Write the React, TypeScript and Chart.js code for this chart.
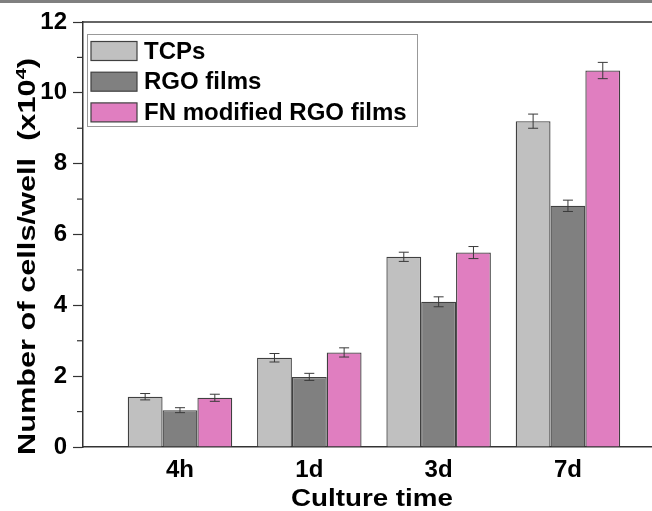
import React, { useEffect, useRef } from 'react';
import { Chart, registerables } from 'chart.js';

Chart.register(...registerables);

const categories = ['4h', '1d', '3d', '7d'];
const seriesNames = ['TCPs', 'RGO films', 'FN modified RGO films'];
const tcpValues = [1.42, 2.52, 5.37, 9.2];
const tcpErrors = [0.09, 0.12, 0.13, 0.2];
const rgoValues = [1.04, 1.98, 4.1, 6.81];
const rgoErrors = [0.07, 0.1, 0.14, 0.16];
const fnValues = [1.39, 2.67, 5.49, 10.63];
const fnErrors = [0.1, 0.13, 0.17, 0.23];
const yMajorTicks = [0, 2, 4, 6, 8, 10, 12];
const yMinorTicks = [1, 3, 5, 7, 9, 11];
const seriesColors = ['#C0C0C0', '#808080', '#E07EC0'];
const xTitle = 'Culture time';
const yTitleMain = 'Number of cells/well  (x10';
const yTitleSup = '4';
const yTitleEnd = ')';

const allValues = [tcpValues, rgoValues, fnValues];
const allErrors = [tcpErrors, rgoErrors, fnErrors];

const FONT = '"Liberation Sans", Arial, sans-serif';
const AXIS_COLOR = '#333333';

const decorPlugin = {
  id: 'decor',
  beforeDraw(chart: any) {
    const { ctx, width, height } = chart;
    ctx.save();
    ctx.fillStyle = '#ffffff';
    ctx.fillRect(0, 0, width, height);
    ctx.fillStyle = '#808080';
    ctx.fillRect(0, 0, width, 3);
    ctx.restore();
  },
  afterDatasetsDraw(chart: any) {
    const { ctx } = chart;
    const ys = chart.scales.y;
    ctx.save();
    ctx.strokeStyle = '#3a3a3a';
    ctx.lineWidth = 1;
    allValues.forEach((vals, di) => {
      const meta = chart.getDatasetMeta(di);
      meta.data.forEach((bar: any, j: number) => {
        const e = allErrors[di][j];
        const x = bar.x;
        const yt = ys.getPixelForValue(vals[j] + e);
        const yb = ys.getPixelForValue(vals[j] - e);
        ctx.beginPath();
        ctx.moveTo(x, yt);
        ctx.lineTo(x, yb);
        ctx.moveTo(x - 5, yt);
        ctx.lineTo(x + 5, yt);
        ctx.moveTo(x - 5, yb);
        ctx.lineTo(x + 5, yb);
        ctx.stroke();
      });
    });
    ctx.restore();
  },
  afterDraw(chart: any) {
    const { ctx, chartArea } = chart;
    const ys = chart.scales.y;
    const xs = chart.scales.x;
    ctx.save();
    // top frame line
    ctx.strokeStyle = AXIS_COLOR;
    ctx.lineWidth = 1.5;
    ctx.beginPath();
    ctx.moveTo(chartArea.left, chartArea.top);
    ctx.lineTo(chartArea.right, chartArea.top);
    ctx.stroke();
    // minor ticks
    ctx.lineWidth = 1.2;
    yMinorTicks.forEach((v) => {
      const p = ys.getPixelForValue(v);
      ctx.beginPath();
      ctx.moveTo(chartArea.left - 6, p);
      ctx.lineTo(chartArea.left, p);
      ctx.stroke();
    });

    // legend
    const lx = chartArea.left + 4;
    const ly = chartArea.top + 12;
    ctx.strokeStyle = '#999999';
    ctx.lineWidth = 1;
    ctx.strokeRect(lx + 0.5, ly + 0.5, 330, 92);
    ctx.font = `bold 24px ${FONT}`;
    ctx.textBaseline = 'middle';
    ctx.textAlign = 'left';
    seriesNames.forEach((name, i) => {
      const cy = ly + 17 + i * 30.7;
      ctx.fillStyle = seriesColors[i];
      ctx.fillRect(lx + 4, cy - 9.5, 46, 19);
      ctx.strokeStyle = '#404040';
      ctx.lineWidth = 1.2;
      ctx.strokeRect(lx + 4, cy - 9.5, 46, 19);
      ctx.fillStyle = '#000000';
      ctx.fillText(name, lx + 57, cy + 1);
    });

    // x title
    ctx.save();
    ctx.font = `bold 23px ${FONT}`;
    const xw = ctx.measureText(xTitle).width;
    const xc = xs.getPixelForValue(2.5) - 2;
    ctx.translate(xc, 506);
    ctx.scale(162 / xw, 1);
    ctx.textAlign = 'center';
    ctx.textBaseline = 'alphabetic';
    ctx.fillStyle = '#000000';
    ctx.fillText(xTitle, 0, 0);
    ctx.restore();

    // y title
    ctx.save();
    ctx.font = `bold 23px ${FONT}`;
    const w1 = ctx.measureText(yTitleMain).width;
    const w3 = ctx.measureText(yTitleEnd).width;
    ctx.font = `bold 15px ${FONT}`;
    const w2 = ctx.measureText(yTitleSup).width;
    const total = w1 + w2 + w3;
    const sx = 397 / total;
    ctx.translate(35, 256.5);
    ctx.rotate(-Math.PI / 2);
    ctx.scale(sx, 1);
    ctx.textAlign = 'left';
    ctx.textBaseline = 'alphabetic';
    ctx.fillStyle = '#000000';
    let cx = -total / 2;
    ctx.font = `bold 23px ${FONT}`;
    ctx.fillText(yTitleMain, cx, 0);
    cx += w1;
    ctx.font = `bold 15px ${FONT}`;
    ctx.fillText(yTitleSup, cx, -9);
    cx += w2;
    ctx.font = `bold 23px ${FONT}`;
    ctx.fillText(yTitleEnd, cx, 0);
    ctx.restore();

    ctx.restore();
  },
};

export default function App() {
  const canvasRef = useRef<HTMLCanvasElement | null>(null);

  useEffect(() => {
    if (!canvasRef.current) return;
    const datasets = seriesNames.map((name, i) => ({
      label: name,
      data: categories.map((_, j) => ({ x: j + 1, y: allValues[i][j] })),
      backgroundColor: seriesColors[i],
      borderColor: '#404040',
      borderWidth: 1.3,
      categoryPercentage: 0.808,
      barPercentage: 1,
    }));
    const chart = new Chart(canvasRef.current, {
      type: 'bar',
      data: { datasets } as any,
      options: {
        animation: false,
        responsive: false,
        maintainAspectRatio: false,
        devicePixelRatio: 1,
        layout: { padding: { top: 22, right: 0, bottom: 0, left: 0 } },
        plugins: {
          legend: { display: false },
          tooltip: { enabled: false },
        },
        scales: {
          x: {
            type: 'linear',
            offset: false,
            min: 0.25,
            max: 4.65,
            afterBuildTicks: (scale: any) => {
              scale.ticks = categories.map((_, i) => ({ value: i + 1 }));
            },
            afterFit: (scale: any) => {
              scale.height = 64;
            },
            grid: { display: false, drawTicks: false, offset: false },
            border: { display: true, color: AXIS_COLOR, width: 1.5 },
            ticks: {
              padding: 9,
              color: '#000000',
              font: { family: FONT, size: 24, weight: 'bold' },
              maxRotation: 0,
              autoSkip: false,
              callback: (v: any) => categories[Math.round(Number(v)) - 1] ?? '',
            },
          },
          y: {
            type: 'linear',
            min: 0,
            max: 12,
            afterBuildTicks: (scale: any) => {
              scale.ticks = yMajorTicks.map((v) => ({ value: v }));
            },
            afterFit: (scale: any) => {
              scale.width = 83;
            },
            grid: {
              drawOnChartArea: false,
              drawTicks: true,
              tickLength: 10,
              tickColor: AXIS_COLOR,
              tickWidth: 1.2,
            },
            border: { display: true, color: AXIS_COLOR, width: 1.5 },
            ticks: {
              padding: 6,
              color: '#000000',
              font: { family: FONT, size: 24, weight: 'bold' },
              callback: (v: any) => String(v),
            },
          },
        },
      } as any,
      plugins: [decorPlugin],
    });
    return () => chart.destroy();
  }, []);

  return (
    <div style={{ position: 'fixed', left: 0, top: 0, width: 652, height: 511, background: '#ffffff', overflow: 'hidden' }}>
      <canvas ref={canvasRef} width={652} height={511} style={{ width: 652, height: 511, display: 'block' }} />
    </div>
  );
}
